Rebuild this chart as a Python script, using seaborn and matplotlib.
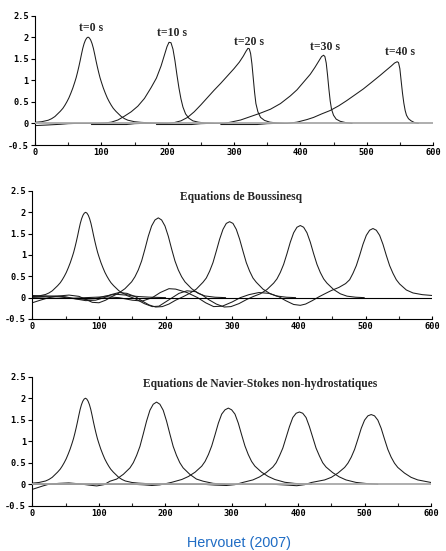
import matplotlib
matplotlib.use("Agg")
import matplotlib.pyplot as plt
import seaborn as sns
from matplotlib.ticker import MultipleLocator

sns.set_style("white")
plt.rcParams['axes.unicode_minus'] = False

# ---------------- data ----------------
XTICKS = [0, 100, 200, 300, 400, 500, 600]
XLABELS = ["0", "100", "200", "300", "400", "500", "600"]
YTICKS = [-0.5, 0, 0.5, 1, 1.5, 2, 2.5]
YLABELS = ["-0.5", "0", "0.5", "1", "1.5", "2", "2.5"]

# initial solitary wave (t = 0 s), same in all panels
T0_X = [0, 10, 20, 25, 30, 34, 38, 42, 45, 48, 51, 54, 57, 60, 62, 64, 66, 68, 70, 72,
        74, 76, 78, 80, 82, 84, 86, 88, 90, 92, 94, 96, 98, 100, 103, 106, 109, 112, 115, 118,
        122, 126, 130, 135, 140, 150, 160, 175, 200]
T0_Y = [0.025, 0.04, 0.075, 0.11, 0.16, 0.22, 0.28, 0.35, 0.42, 0.5, 0.59, 0.7, 0.82, 0.96, 1.06, 1.18,
        1.31, 1.45, 1.6, 1.74, 1.85, 1.93, 1.98, 2.0, 1.98, 1.93, 1.85, 1.74, 1.6, 1.45, 1.31, 1.18,
        1.06, 0.96, 0.82, 0.7, 0.59, 0.5, 0.42, 0.35, 0.28, 0.22, 0.16, 0.11, 0.075, 0.04, 0.025, 0.012,
        0.0]

# panel 1 : shallow water (t = 10, 20, 30, 40 s)
SV10_X = [0, 20, 38, 50, 60, 95, 105, 115, 125, 135, 145, 155, 165, 175, 183, 190, 195, 199, 202, 205,
          208, 211, 214, 217, 220, 223, 227, 232, 238, 246, 256, 270]
SV10_Y = [-0.05, -0.035, -0.02, -0.005, 0.0, 0.0, 0.01, 0.03, 0.08, 0.17, 0.27, 0.4, 0.58, 0.83, 1.05, 1.33,
          1.58, 1.78, 1.88, 1.87, 1.72, 1.45, 1.12, 0.82, 0.57, 0.38, 0.22, 0.12, 0.06, 0.03, 0.01, 0.0]
SV20_X = [85, 138, 150, 160, 200, 210, 220, 230, 240, 250, 260, 270, 280, 290, 300, 308, 314, 318, 321, 323,
          325, 327, 329, 331, 333, 336, 340, 346, 354, 365, 375]
SV20_Y = [-0.025, -0.025, -0.005, 0.0, 0.0, 0.02, 0.06, 0.14, 0.27, 0.43, 0.6, 0.77, 0.93, 1.1, 1.27, 1.42,
          1.56, 1.67, 1.74, 1.73, 1.62, 1.38, 1.05, 0.72, 0.46, 0.27, 0.14, 0.07, 0.03, 0.01, 0.0]
SV30_X = [183, 236, 250, 260, 285, 295, 310, 325, 340, 355, 370, 385, 395, 405, 415, 422, 428, 432, 435, 437,
          439, 441, 443, 445, 447, 450, 454, 460, 468, 478]
SV30_Y = [-0.025, -0.025, -0.005, 0.0, 0.0, 0.03, 0.08, 0.16, 0.24, 0.33, 0.46, 0.64, 0.78, 0.96, 1.14, 1.3,
          1.45, 1.55, 1.58, 1.55, 1.4, 1.12, 0.8, 0.52, 0.33, 0.19, 0.1, 0.05, 0.02, 0.0]
SV40_X = [280, 335, 350, 360, 380, 395, 410, 420, 432, 445, 458, 470, 483, 495, 508, 520, 530, 537, 542, 546,
          548, 550, 552, 554, 556, 558, 560, 563, 567, 572, 578]
SV40_Y = [-0.025, -0.025, -0.005, 0.0, 0.0, 0.03, 0.09, 0.14, 0.22, 0.3, 0.41, 0.53, 0.67, 0.8, 0.96, 1.11,
          1.24, 1.33, 1.4, 1.43, 1.41, 1.27, 0.98, 0.7, 0.47, 0.3, 0.19, 0.11, 0.06, 0.02, 0.0]
SV_LABELS = ["t=0 s", "t=10 s", "t=20 s", "t=30 s", "t=40 s"]
SV_LABEL_X = [84, 206, 322, 437, 550]
SV_LABEL_Y = [2.2, 2.09, 1.89, 1.78, 1.66]

# panel 2 : Boussinesq
BQ10_X = [0, 12, 25, 40, 55, 70, 80, 90, 100, 110, 120, 129, 139, 149, 154, 159, 164, 169, 174, 179,
          184, 189, 194, 199, 204, 209, 214, 219, 224, 229, 239, 249, 259, 274, 290]
BQ10_Y = [-0.12, -0.06, 0.0, 0.04, 0.06, 0.03, -0.04, -0.11, -0.12, -0.06, 0.03, 0.1, 0.21, 0.37, 0.49, 0.65,
          0.86, 1.14, 1.44, 1.68, 1.82, 1.87, 1.82, 1.68, 1.44, 1.14, 0.86, 0.65, 0.49, 0.37, 0.21, 0.1, 0.04,
          0.01, 0.0]
BQ20_X = [0, 20, 35, 50, 65, 80, 95, 108, 118, 130, 142, 155, 165, 175, 185, 195, 205, 215, 226, 236,
          246, 256, 261, 266, 271, 276, 281, 286, 291, 296, 301, 306, 311, 316, 321, 326, 331, 336, 346, 356,
          366, 381, 395]
BQ20_Y = [0.02, 0.03, 0.04, 0.02, -0.03, -0.07, -0.06, 0.0, 0.07, 0.12, 0.1, 0.02, -0.08, -0.17, -0.22, -0.21,
          -0.15, -0.06, 0.02, 0.1, 0.2, 0.36, 0.46, 0.62, 0.82, 1.09, 1.37, 1.6, 1.74, 1.78, 1.74, 1.6,
          1.37, 1.09, 0.82, 0.62, 0.46, 0.36, 0.2, 0.1, 0.04, 0.01, 0.0]
BQ30_X = [0, 20, 40, 60, 80, 95, 110, 125, 140, 155, 168, 180, 190, 200, 210, 220, 232, 245, 255, 265,
          276, 288, 298, 310, 322, 332, 342, 352, 362, 367, 372, 377, 382, 387, 392, 397, 402, 407, 412, 417,
          422, 427, 432, 437, 442, 452, 462, 472, 485, 498]
BQ30_Y = [0.05, 0.04, 0.02, -0.02, -0.04, -0.02, 0.04, 0.08, 0.06, -0.03, -0.14, -0.21, -0.2, -0.1, 0.0, 0.1,
          0.16, 0.14, 0.06, -0.05, -0.15, -0.22, -0.21, -0.14, -0.04, 0.03, 0.09, 0.19, 0.34, 0.44, 0.59, 0.78,
          1.03, 1.3, 1.52, 1.65, 1.69, 1.65, 1.52, 1.3, 1.03, 0.78, 0.59, 0.44, 0.34, 0.19, 0.09, 0.035, 0.01,
          0.0]
BQ40_X = [0, 20, 50, 80, 110, 130, 150, 165, 180, 192, 205, 215, 232, 248, 260, 272, 285, 300, 312, 325,
          340, 355, 370, 380, 392, 402, 410, 420, 430, 440, 449, 460, 470, 476, 481, 486, 491, 496, 501, 506,
          511, 516, 521, 526, 531, 536, 541, 546, 551, 561, 571, 585, 600]
BQ40_Y = [0.0, -0.01, -0.02, 0.0, 0.02, 0.0, -0.06, -0.08, 0.0, 0.12, 0.21, 0.2, 0.12, 0.0, -0.12, -0.21,
          -0.2, -0.1, 0.0, 0.07, 0.12, 0.1, 0.02, -0.07, -0.16, -0.18, -0.15, -0.07, 0.02, 0.1, 0.17, 0.24,
          0.33, 0.42, 0.57, 0.75, 0.99, 1.25, 1.46, 1.58, 1.62, 1.58, 1.46, 1.25, 0.99, 0.75, 0.57, 0.42, 0.32,
          0.18, 0.11, 0.07, 0.05]

# panel 3 : non-hydrostatic Navier-Stokes
NS10_X = [0, 8, 16, 25, 40, 55, 70, 85, 97, 108, 117, 127, 137, 147, 152, 157, 162, 167, 172, 177,
          182, 187, 192, 197, 202, 207, 212, 217, 222, 227, 237, 247, 257, 272, 290]
NS10_Y = [-0.12, -0.08, -0.04, 0.0, 0.02, 0.03, 0.01, -0.02, -0.04, -0.01, 0.07, 0.12, 0.23, 0.38, 0.5, 0.67,
          0.88, 1.17, 1.47, 1.72, 1.86, 1.91, 1.86, 1.72, 1.47, 1.17, 0.88, 0.67, 0.5, 0.38, 0.23, 0.12, 0.07,
          0.02, 0.0]
NS20_X = [0, 150, 168, 180, 192, 200, 210, 225, 235, 245, 255, 260, 265, 270, 275, 280, 285, 290, 295, 300,
          305, 310, 315, 320, 325, 330, 335, 345, 355, 365, 380, 395, 420]
NS20_Y = [0.0, 0.0, -0.015, -0.03, -0.015, 0.01, 0.045, 0.11, 0.18, 0.28, 0.42, 0.53, 0.69, 0.89, 1.15, 1.42,
          1.63, 1.73, 1.77, 1.73, 1.63, 1.42, 1.15, 0.89, 0.69, 0.53, 0.42, 0.28, 0.18, 0.11, 0.045, 0.018, 0.0]
NS30_X = [0, 255, 275, 292, 305, 317, 332, 342, 352, 362, 367, 372, 377, 382, 387, 392, 397, 402, 407, 412,
          417, 422, 427, 432, 437, 442, 452, 462, 472, 487, 502, 520]
NS30_Y = [0.0, 0.0, -0.02, -0.03, -0.01, 0.042, 0.1, 0.17, 0.27, 0.4, 0.5, 0.66, 0.84, 1.09, 1.34, 1.55, 1.65,
          1.68, 1.65, 1.55, 1.34, 1.09, 0.84, 0.66, 0.5, 0.4, 0.27, 0.17, 0.1, 0.042, 0.017, 0.0]
NS40_X = [0, 360, 383, 398, 410, 420, 440, 450, 460, 470, 475, 480, 485, 490, 495, 500, 505, 510, 515, 520,
          525, 530, 535, 540, 545, 550, 560, 570, 580, 600]
NS40_Y = [0.0, 0.0, -0.02, -0.035, -0.01, 0.04, 0.1, 0.16, 0.26, 0.39, 0.49, 0.63, 0.81, 1.05, 1.3, 1.49,
          1.59, 1.62, 1.59, 1.49, 1.3, 1.05, 0.81, 0.63, 0.49, 0.39, 0.26, 0.16, 0.1, 0.04]

TITLE_BQ = "Equations de Boussinesq"
TITLE_NS = "Equations de Navier-Stokes non-hydrostatiques"
CAPTION = "Hervouet (2007)"

# ---------------- drawing ----------------
LINE_COLOR = "#1c1c1c"
LINE_W = 0.75
SERIF = ["Liberation Serif", "DejaVu Serif"]
MONO = ["DejaVu Sans Mono"]

fig = plt.figure(figsize=(4.46, 5.51), dpi=100)
ax1 = fig.add_axes([0.0785, 0.7368, 0.8924, 0.2350])
ax2 = fig.add_axes([0.0724, 0.4211, 0.8969, 0.2323])
ax3 = fig.add_axes([0.0724, 0.0822, 0.8940, 0.2341])


def draw_curves(ax, curves):
    for cx, cy in curves:
        sns.lineplot(x=cx, y=cy, ax=ax, color=LINE_COLOR, linewidth=LINE_W,
                     estimator=None, sort=False, zorder=2)


def style(ax, zero_color, zero_lw):
    ax.set_xlim(0, 600)
    ax.set_ylim(-0.5, 2.5)
    ax.set_xlabel("")
    ax.set_ylabel("")
    for s in ["top", "right"]:
        ax.spines[s].set_visible(False)
    for s in ["left", "bottom"]:
        ax.spines[s].set_color("black")
        ax.spines[s].set_linewidth(0.8)
    ax.set_xticks(XTICKS)
    ax.set_xticklabels(XLABELS, fontfamily=MONO, fontweight="bold", fontsize=6.2)
    ax.set_yticks(YTICKS)
    ax.set_yticklabels(YLABELS, fontfamily=MONO, fontweight="bold", fontsize=6.2)
    ax.xaxis.set_minor_locator(MultipleLocator(50))
    ax.tick_params(axis="y", which="major", direction="out", length=3, width=0.8, pad=1.5,
                   left=True, colors="black")
    ax.tick_params(axis="x", which="major", direction="in", length=2.5, width=0.8, pad=2.5,
                   bottom=True, colors="black")
    ax.tick_params(axis="x", which="minor", direction="in", length=2, width=0.8, bottom=True)
    ax.axhline(0, color=zero_color, lw=zero_lw, zorder=3)
    ax.set_facecolor("white")


draw_curves(ax1, [(T0_X, T0_Y), (SV10_X, SV10_Y), (SV20_X, SV20_Y), (SV30_X, SV30_Y), (SV40_X, SV40_Y)])
style(ax1, "#a8a8a8", 1.3)
for lx, ly, lt in zip(SV_LABEL_X, SV_LABEL_Y, SV_LABELS):
    ax1.text(lx, ly, lt, ha="center", va="center", fontfamily=SERIF, fontweight="bold", fontsize=8.5)

draw_curves(ax2, [(T0_X, T0_Y), (BQ10_X, BQ10_Y), (BQ20_X, BQ20_Y), (BQ30_X, BQ30_Y), (BQ40_X, BQ40_Y)])
style(ax2, "black", 0.8)
ax2.text(313, 2.36, TITLE_BQ, ha="center", va="center", fontfamily=SERIF, fontweight="bold", fontsize=8.3)

draw_curves(ax3, [(T0_X, T0_Y), (NS10_X, NS10_Y), (NS20_X, NS20_Y), (NS30_X, NS30_Y), (NS40_X, NS40_Y)])
style(ax3, "#a8a8a8", 1.3)
ax3.text(343, 2.33, TITLE_NS, ha="center", va="center", fontfamily=SERIF, fontweight="bold", fontsize=8.3)

fig.text(239 / 446, 1 - 543 / 551, CAPTION, ha="center", va="center", color="#1f6cc4",
         fontfamily=["Liberation Sans", "DejaVu Sans"], fontsize=10.4)

fig.savefig("out.png", dpi=100, facecolor="white")
